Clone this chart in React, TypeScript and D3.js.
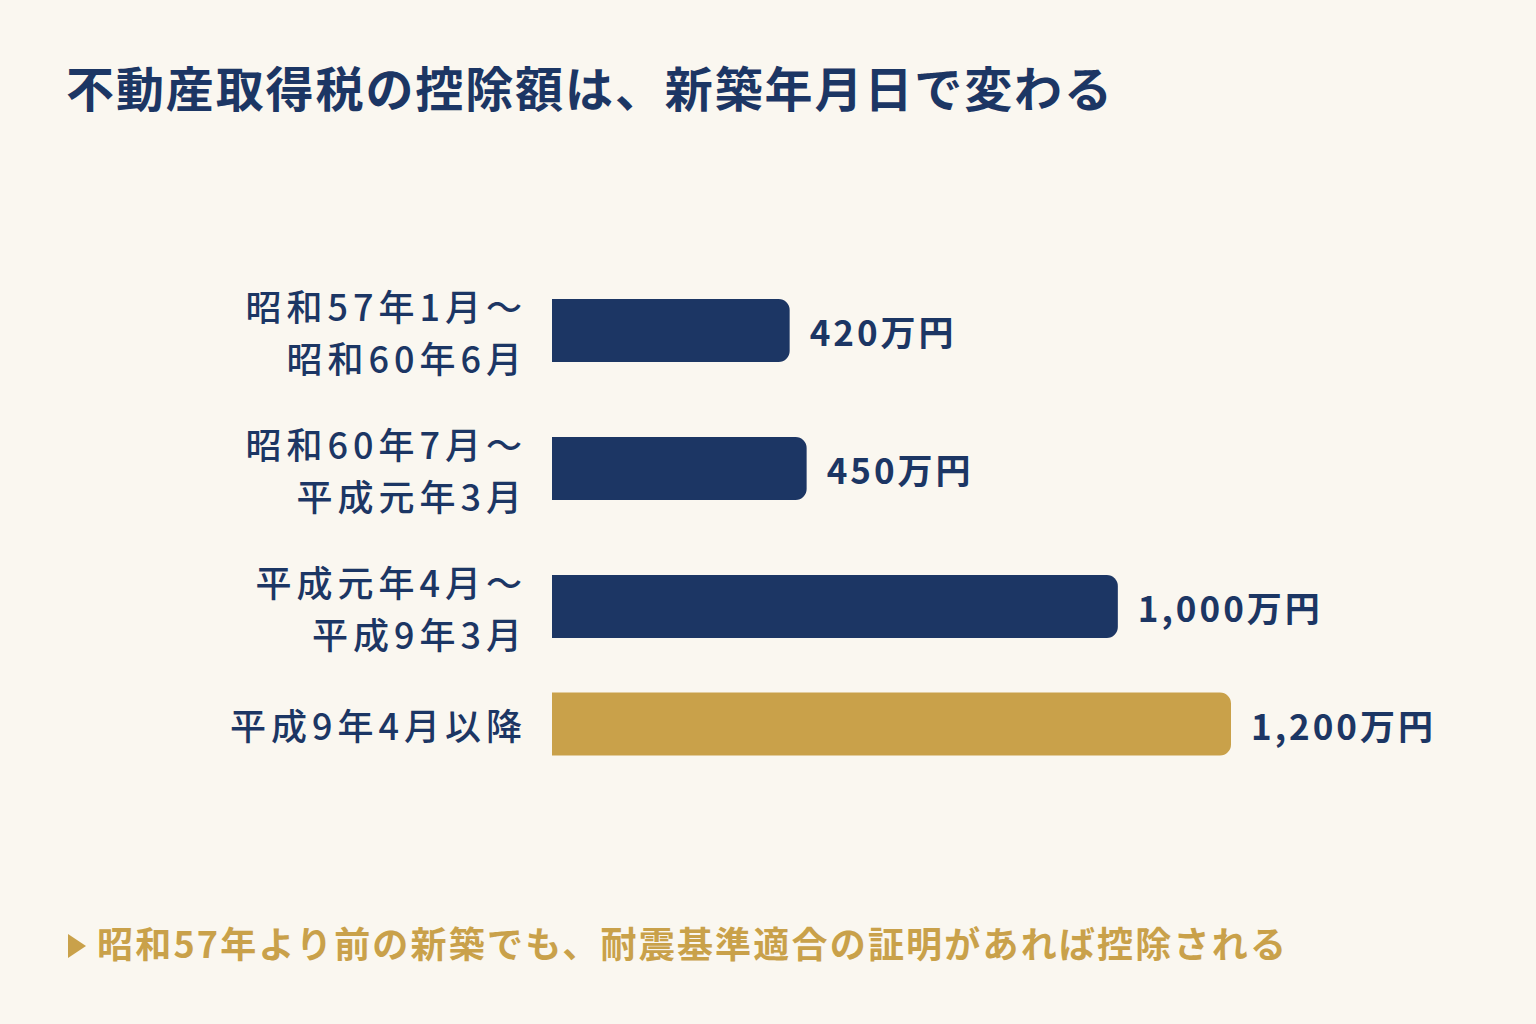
import React from 'react';
import * as d3 from 'd3';

// --- data ---
const categories: string[][] = [
    ['昭和57年1月〜', '昭和60年6月'],
    ['昭和60年7月〜', '平成元年3月'],
    ['平成元年4月〜', '平成9年3月'],
    ['平成9年4月以降'],
];
const values = [420, 450, 1000, 1200];
const valueLabels = ['420万円', '450万円', '1,000万円', '1,200万円'];
const highlight = [false, false, false, true];

const title = '不動産取得税の控除額は、新築年月日で変わる';
const note = '昭和57年より前の新築でも、耐震基準適合の証明があれば控除される';

const W = 1536;
const H = 1024;
const NAVY = '#1c3664';
const GOLD = '#c9a14a';
const BG = '#faf7f0';
const FONT = '"Noto Sans CJK JP", "Noto Sans", sans-serif';

const barH = 63;
const lineH = 52;
const rowGap = 34;
const top = 278.5;

// bar with only the right corners rounded
const barPath = (x0: number, y: number, w: number, h: number, r: number) => {
    const p = d3.path();
    p.moveTo(x0, y);
    p.lineTo(x0 + w - r, y);
    p.arcTo(x0 + w, y, x0 + w, y + r, r);
    p.lineTo(x0 + w, y + h - r);
    p.arcTo(x0 + w, y + h, x0 + w - r, y + h, r);
    p.lineTo(x0, y + h);
    p.closePath();
    return p.toString();
};

export default function App() {
    const x = d3.scaleLinear().domain([0, 1200]).range([552, 1231]);

    // stack rows: each row as tall as its label or its bar
    let cursor = top;
    const rows = categories.map((lines, i) => {
        const h = Math.max(lines.length * lineH, barH);
        const cy = cursor + h / 2;
        cursor += h + rowGap;
        return { lines, cy, i };
    });

    return (
        <div style={{ position: 'absolute', left: 0, top: 0, width: W, height: H }}>
            <svg width={W} height={H} style={{ display: 'block', fontFamily: FONT }}>
                <rect width={W} height={H} fill={BG} />
                <text x={66} y={107} fontSize={48} fontWeight={700} fill={NAVY} letterSpacing={1.9}>
                    {title}
                </text>

                {rows.map(({ lines, cy, i }) => (
                    <g key={i}>
                        {lines.map((l, j) => (
                            <text
                                key={j}
                                x={527}
                                y={cy + (j - (lines.length - 1) / 2) * lineH}
                                textAnchor="end"
                                dominantBaseline="central"
                                fontSize={36}
                                fontWeight={500}
                                letterSpacing={5}
                                fill={NAVY}
                            >
                                {l}
                            </text>
                        ))}
                        <path
                            d={barPath(x(0), cy - barH / 2, x(values[i]) - x(0), barH, 11)}
                            fill={highlight[i] ? GOLD : NAVY}
                        />
                        <text
                            x={x(values[i]) + 20}
                            y={cy}
                            dominantBaseline="central"
                            fontSize={35}
                            fontWeight={700}
                            letterSpacing={3}
                            fill={NAVY}
                        >
                            {valueLabels[i]}
                        </text>
                    </g>
                ))}

                <path d="M68,934 L86,946 L68,958 Z" fill={GOLD} />
                <text x={97} y={942} dominantBaseline="central" fontSize={36} fontWeight={700} letterSpacing={2.2} fill={GOLD}>
                    {note}
                </text>
            </svg>
        </div>
    );
}
